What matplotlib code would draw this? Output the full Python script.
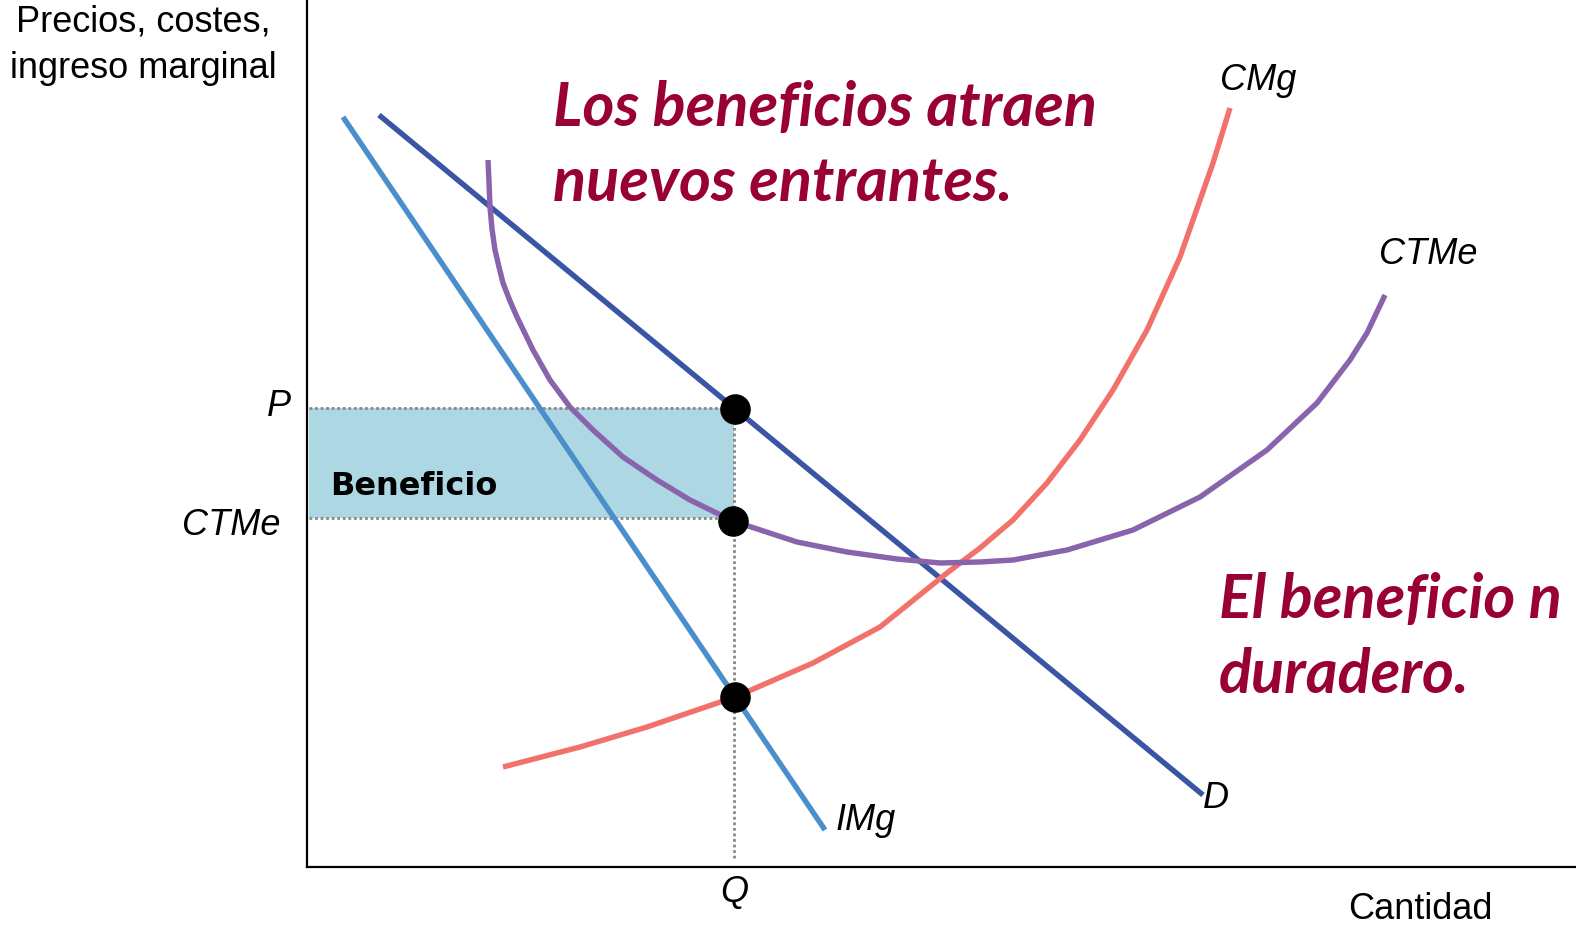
import matplotlib
matplotlib.use("Agg")
import matplotlib.pyplot as plt
from matplotlib.patches import Rectangle

W, H = 1576, 930

# ---- data (quantity q, price p) ----
img_q = [36, 518]
img_p = [750, 37]

d_q = [72, 896]
d_p = [752, 72]

cmg_q = [196, 273, 340, 428, 506, 573, 640, 673, 706, 740, 773, 806, 840,
         873, 906, 923]
cmg_p = [100, 120, 140, 170, 204, 240, 294, 319, 347, 384, 427, 477, 537,
         610, 704, 759]

ctme_q = [181, 182, 183, 185, 188, 192, 196, 203, 210, 226, 243, 263, 286,
          316, 350, 383, 426, 490, 540, 590, 633, 673, 706, 760, 826, 893,
          960, 1010, 1043, 1060, 1078]
ctme_p = [707, 685, 660, 638, 617, 600, 584, 566, 550, 517, 487, 460, 437,
          410, 387, 367, 346, 325, 315, 308, 304, 305, 307, 317, 337, 370,
          417, 464, 507, 534, 572]

Q = 427
P = 459
ATC_Q = 349
pts_q = [428, 426, 428]
pts_p = [458, 346, 170]

fig = plt.figure(figsize=(W / 100, H / 100), dpi=100)
ax = fig.add_axes([307 / W, (H - 867) / H, 1 - 307 / W, 867 / H])
ax.set_xlim(0, W - 307)
ax.set_ylim(0, 867)
ax.set_xticks([])
ax.set_yticks([])
for s in ["top", "right"]:
    ax.spines[s].set_visible(False)
for s in ["left", "bottom"]:
    ax.spines[s].set_linewidth(1.6)
    ax.spines[s].set_color("black")

# profit rectangle
ax.add_patch(Rectangle((2, ATC_Q), Q - 2, P - ATC_Q, facecolor="#acd7e3",
                       edgecolor="none", zorder=1))
dot = dict(color="#888888", lw=2.0, linestyle=(0, (1, 1)), zorder=2)
ax.plot([2, Q], [P, P], **dot)
ax.plot([2, Q], [ATC_Q, ATC_Q], **dot)
ax.plot([Q, Q], [9, P], **dot)

lw = 3.9
ax.plot(img_q, img_p, color="#4a8fcc", lw=lw, solid_capstyle="butt", zorder=3)
ax.plot(d_q, d_p, color="#3b55a5", lw=lw, solid_capstyle="butt", zorder=3)
ax.plot(cmg_q, cmg_p, color="#f2726b", lw=lw, solid_capstyle="butt",
        solid_joinstyle="round", zorder=3)
ax.plot(ctme_q, ctme_p, color="#8a63ad", lw=lw, solid_capstyle="butt",
        solid_joinstyle="round", zorder=3)

ax.plot(pts_q, pts_p, linestyle="none", marker="o", ms=21,
        color="black", zorder=5)

# ---- text ----
def fx(x):
    return x / W

def fy(y):
    return 1 - y / H

lab = dict(fontsize=26, family="Liberation Sans", color="black")
fig.text(fx(143), fy(22), "Precios, costes,", ha="center", va="center", **lab)
fig.text(fx(143), fy(68), "ingreso marginal", ha="center", va="center", **lab)
fig.text(fx(1420), fy(909), "Cantidad", ha="center", va="center", **lab)

ital = dict(fontsize=26, family="Liberation Sans", style="italic", color="black")
fig.text(fx(291), fy(407), "P", ha="right", va="center", **ital)
fig.text(fx(280), fy(525), "CTMe", ha="right", va="center", **ital)
fig.text(fx(734), fy(892), "Q", ha="center", va="center", **ital)
fig.text(fx(836), fy(820), "IMg", ha="left", va="center", **ital)
fig.text(fx(1203), fy(798), "D", ha="left", va="center", **ital)
fig.text(fx(1220), fy(80), "CMg", ha="left", va="center", **ital)
fig.text(fx(1379), fy(255), "CTMe", ha="left", va="center", **ital)

fig.text(fx(330), fy(486), "Beneficio", ha="left", va="center", fontsize=23,
         family="DejaVu Sans", weight="bold", color="black", zorder=6)

red = dict(fontsize=44, family="Lato", style="italic", weight="bold",
           color="#990033")
fig.text(fx(553), fy(126), "Los beneficios atraen", ha="left", va="baseline", **red)
fig.text(fx(553), fy(201), "nuevos entrantes.", ha="left", va="baseline", **red)
fig.text(fx(1219), fy(618), "El beneficio n", ha="left", va="baseline", **red)
fig.text(fx(1219), fy(693), "duradero.", ha="left", va="baseline", **red)

fig.savefig("out.png", dpi=100)
